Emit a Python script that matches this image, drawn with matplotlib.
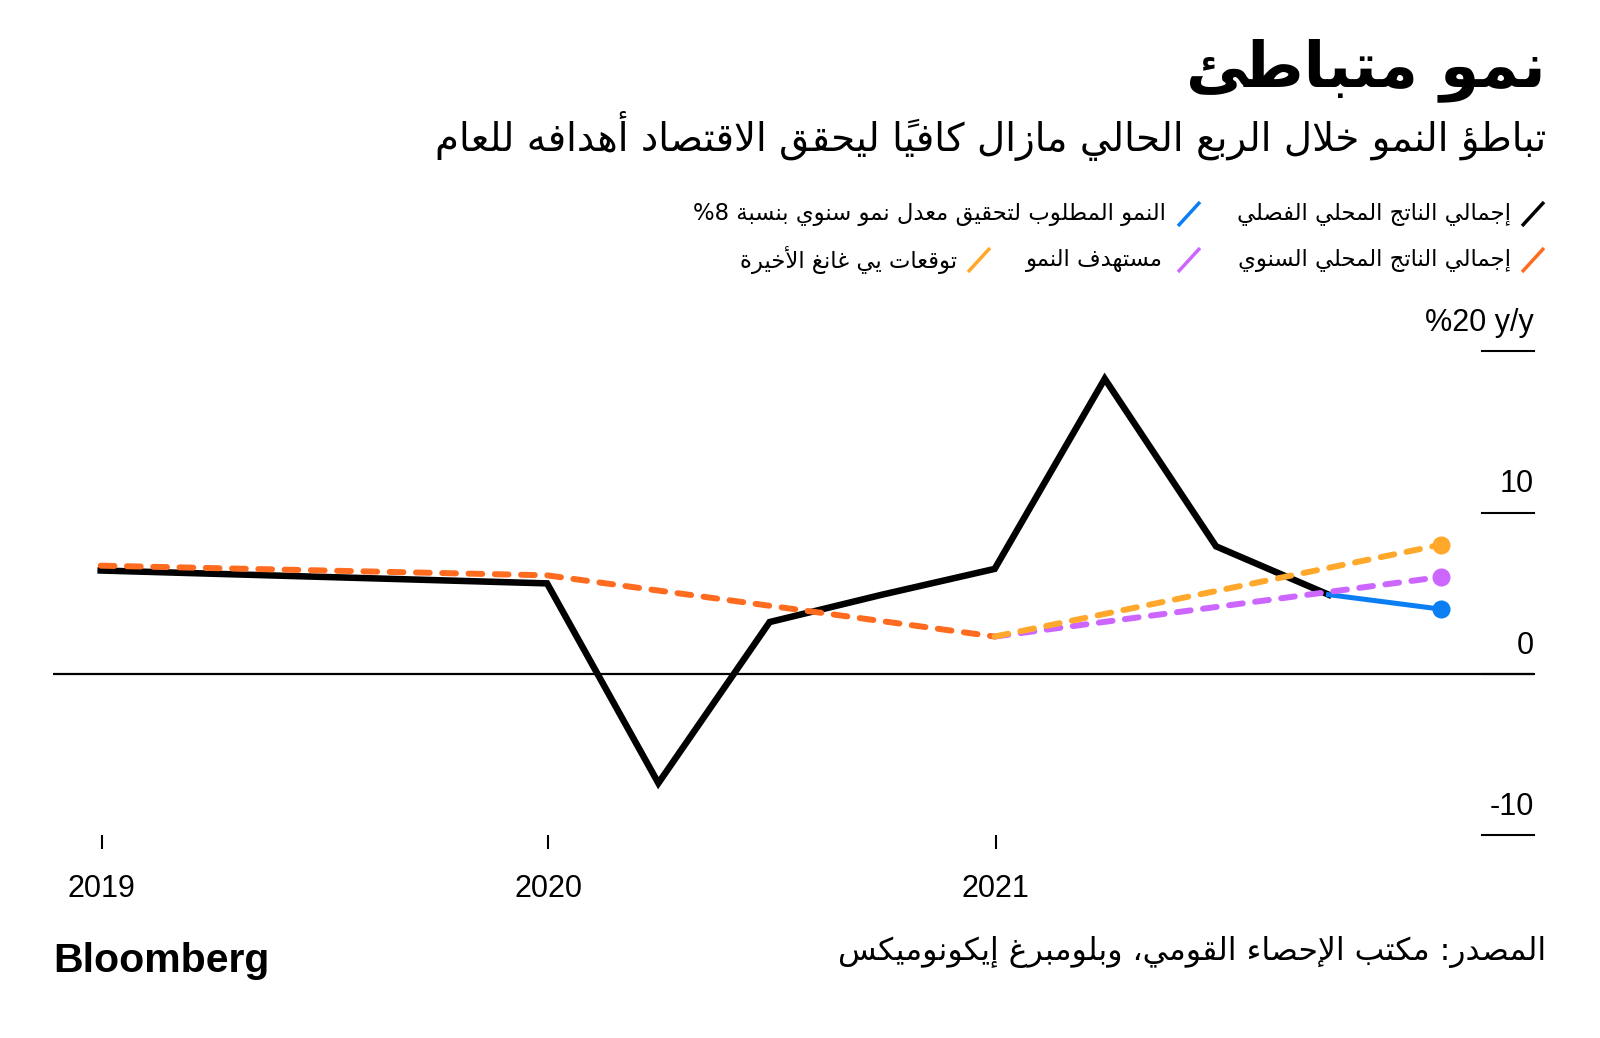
import matplotlib
matplotlib.use('Agg')
import matplotlib.pyplot as plt
import matplotlib.transforms as mtransforms
from matplotlib.lines import Line2D
import pandas as pd

# ---- data ----
q_dates = ['2018-12-31', '2019-12-31', '2020-03-31', '2020-06-30', '2020-09-30',
           '2020-12-31', '2021-03-31', '2021-06-30', '2021-09-30']
q_gdp = [6.4, 5.6, -6.8, 3.2, 4.9, 6.5, 18.3, 7.9, 4.9]

need_dates = ['2021-09-30', '2021-12-31']
need_gdp = [4.9, 4.0]

annual_dates = ['2018-12-31', '2019-12-31', '2020-12-31']
annual_gdp = [6.7, 6.1, 2.3]

target_dates = ['2020-12-31', '2021-12-31']
target_gdp = [2.3, 6.0]

yi_dates = ['2020-12-31', '2021-12-31']
yi_gdp = [2.3, 8.0]

year_ticks = ['2019-01-01', '2020-01-01', '2021-01-01']
year_labels = ['2019', '2020', '2021']
y_ticks = [20, 10, 0, -10]
y_labels = ['%20 y/y', '10', '0', '-10']

title = 'نمو متباطئ'
subtitle = 'تباطؤ النمو خلال الربع الحالي مازال كافياً ليحقق الاقتصاد أهدافه للعام'
source = 'المصدر: مكتب الإحصاء القومي، وبلومبرغ إيكونوميكس'
legend_labels = ['إجمالي الناتج المحلي الفصلي', 'النمو المطلوب لتحقيق معدل نمو سنوي بنسبة 8%',
                 'إجمالي الناتج المحلي السنوي', 'مستهدف النمو', 'توقعات يي غانغ الأخيرة']

BLACK = '#000000'
BLUE = '#0a7ef2'
ORANGE = '#ff6b1f'
PURPLE = '#cc66ff'
YELLOW = '#ffa82b'
legend_colors = [BLACK, BLUE, ORANGE, PURPLE, YELLOW]

# ---- simple arabic shaping (matplotlib has no RTL / joining support) ----
_pf = [(0x621, 0xFE80, 1), (0x622, 0xFE81, 2), (0x623, 0xFE83, 2), (0x624, 0xFE85, 2),
       (0x625, 0xFE87, 2), (0x626, 0xFE89, 4), (0x627, 0xFE8D, 2), (0x628, 0xFE8F, 4),
       (0x629, 0xFE93, 2), (0x62A, 0xFE95, 4), (0x62B, 0xFE99, 4), (0x62C, 0xFE9D, 4),
       (0x62D, 0xFEA1, 4), (0x62E, 0xFEA5, 4), (0x62F, 0xFEA9, 2), (0x630, 0xFEAB, 2),
       (0x631, 0xFEAD, 2), (0x632, 0xFEAF, 2), (0x633, 0xFEB1, 4), (0x634, 0xFEB5, 4),
       (0x635, 0xFEB9, 4), (0x636, 0xFEBD, 4), (0x637, 0xFEC1, 4), (0x638, 0xFEC5, 4),
       (0x639, 0xFEC9, 4), (0x63A, 0xFECD, 4), (0x641, 0xFED1, 4), (0x642, 0xFED5, 4),
       (0x643, 0xFED9, 4), (0x644, 0xFEDD, 4), (0x645, 0xFEE1, 4), (0x646, 0xFEE5, 4),
       (0x647, 0xFEE9, 4), (0x648, 0xFEED, 2), (0x649, 0xFEEF, 2), (0x64A, 0xFEF1, 4)]
FORMS = {chr(a): ''.join(chr(b + k) for k in range(n)) for a, b, n in _pf}
LAM_ALEF = {chr(0x622): '\uFEF5\uFEF6', chr(0x623): '\uFEF7\uFEF8',
            chr(0x625): '\uFEF9\uFEFA', chr(0x627): '\uFEFB\uFEFC'}


def arabic(text):
    units = []
    for ch in text:
        if '\u064B' <= ch <= '\u0652' and units:
            units[-1][1] += ch
        else:
            units.append([ch, ''])
    merged = []
    i = 0
    while i < len(units):
        ch, marks = units[i]
        if ch == 'ل' and i + 1 < len(units) and units[i + 1][0] in LAM_ALEF:
            merged.append([LAM_ALEF[units[i + 1][0]], marks + units[i + 1][1]])
            i += 2
        else:
            merged.append([FORMS.get(ch, ch), marks])
            i += 1

    def forms(u):
        return u if (len(u) > 1 or u in FORMS.values()) and not u.isascii() and u[0] >= '\uFE70' else None

    glyphs = []
    for i, (u, marks) in enumerate(merged):
        f = forms(u)
        if f is None:
            glyphs.append(u + marks)
            continue
        prev = forms(merged[i - 1][0]) if i > 0 else None
        nxt = forms(merged[i + 1][0]) if i + 1 < len(merged) else None
        jp = prev is not None and len(prev) == 4 and len(f) > 1
        jn = len(f) == 4 and nxt is not None and len(nxt) > 1
        idx = 3 if (jp and jn) else 1 if jp else 2 if jn else 0
        glyphs.append(f[idx] + marks)
    glyphs.reverse()
    out, run = [], []
    for g in glyphs:
        if g.isascii() and g.isalnum():
            run.append(g)
        else:
            out.extend(reversed(run))
            run = []
            out.append(g)
    out.extend(reversed(run))
    return ''.join(out)


# ---- figure ----
W, H = 1600, 1038
fig = plt.figure(figsize=(16, 10.38), dpi=100)
renderer = fig.canvas.get_renderer()


def fx(px):
    return px / W


def fy(py):
    return 1 - py / H


def fit_text(x_right, y_center, s, width_px, weight='normal', size=None):
    t = fig.text(fx(x_right), fy(y_center), arabic(s), ha='right', va='center',
                 fontsize=20, fontweight=weight, family='DejaVu Sans', color='black')
    if size is None:
        w = t.get_window_extent(renderer).width
        size = 20 * width_px / w
    t.set_fontsize(size)
    return t, size


fit_text(1546, 70, title, 360, weight='bold')
fit_text(1546, 136, subtitle, 1112)
fit_text(1546, 952, source, 707)

# legend
_, lsize = fit_text(1511, 214, legend_labels[0], 276)
leg_pos = [(1533, 1511, 214), (1189, 1166, 214), (1533, 1511, 260), (1189, 1163, 260), (979, 957, 260)]
for (sx, tx, ty), lab, col in zip(leg_pos, legend_labels, legend_colors):
    if lab != legend_labels[0]:
        fit_text(tx, ty, lab, None, size=lsize)
    fig.add_artist(Line2D([fx(sx - 11), fx(sx + 11)], [fy(ty + 12), fy(ty - 12)],
                          transform=fig.transFigure, color=col, lw=2.5, solid_capstyle='butt'))

fig.text(fx(53), fy(972), 'Bloomberg', family='Liberation Sans', fontweight='bold',
         fontsize=29.5, ha='left', va='baseline', color='black')

# ---- axes ----
ax = fig.add_axes([fx(53), fy(834.7), (1534 - 53) / W, (834.7 - 351.4) / H])
for sp in ax.spines.values():
    sp.set_visible(False)

ax.axhline(0, color='black', lw=1.6, zorder=1)

ax.plot(pd.to_datetime(q_dates), q_gdp, color=BLACK, lw=4.7, solid_joinstyle='miter', zorder=3)
ax.plot(pd.to_datetime(need_dates), need_gdp, color=BLUE, lw=3.6, marker='o', markersize=12,
        markevery=[1], zorder=3)
ax.plot(pd.to_datetime(annual_dates), annual_gdp, color=ORANGE, lw=4.3, dashes=(2.3, 2.1),
        dash_capstyle='round', zorder=4)
ax.plot(pd.to_datetime(target_dates), target_gdp, color=PURPLE, lw=4.3, dashes=(2.3, 2.1),
        dash_capstyle='round', marker='o', markersize=12, markevery=[1], zorder=5)
ax.plot(pd.to_datetime(yi_dates), yi_gdp, color=YELLOW, lw=4.3, dashes=(2.3, 2.1),
        dash_capstyle='round', marker='o', markersize=12, markevery=[1], zorder=6)

ax.set_xlim(pd.Timestamp('2018-11-22'), pd.Timestamp('2022-03-17'))
ax.set_ylim(-10, 20)

ax.set_xticks(pd.to_datetime(year_ticks))
ax.set_xticklabels(year_labels, family='Liberation Sans', fontsize=22)
ax.tick_params(axis='x', length=10, width=1.5, pad=18, color='black')
ax.set_yticks([])

blend = mtransforms.blended_transform_factory(ax.transAxes, ax.transData)
lab_tr = mtransforms.offset_copy(blend, fig=fig, x=0, y=20, units='dots')
for v, lab in zip(y_ticks, y_labels):
    ax.plot([0.965, 1.0], [v, v], transform=blend, color='black', lw=1.5, clip_on=False)
    ax.text(1.0, v, lab, transform=lab_tr, ha='right', va='baseline',
            family='Liberation Sans', fontsize=22, color='black')

fig.savefig('out.png', dpi=100, facecolor='white')
